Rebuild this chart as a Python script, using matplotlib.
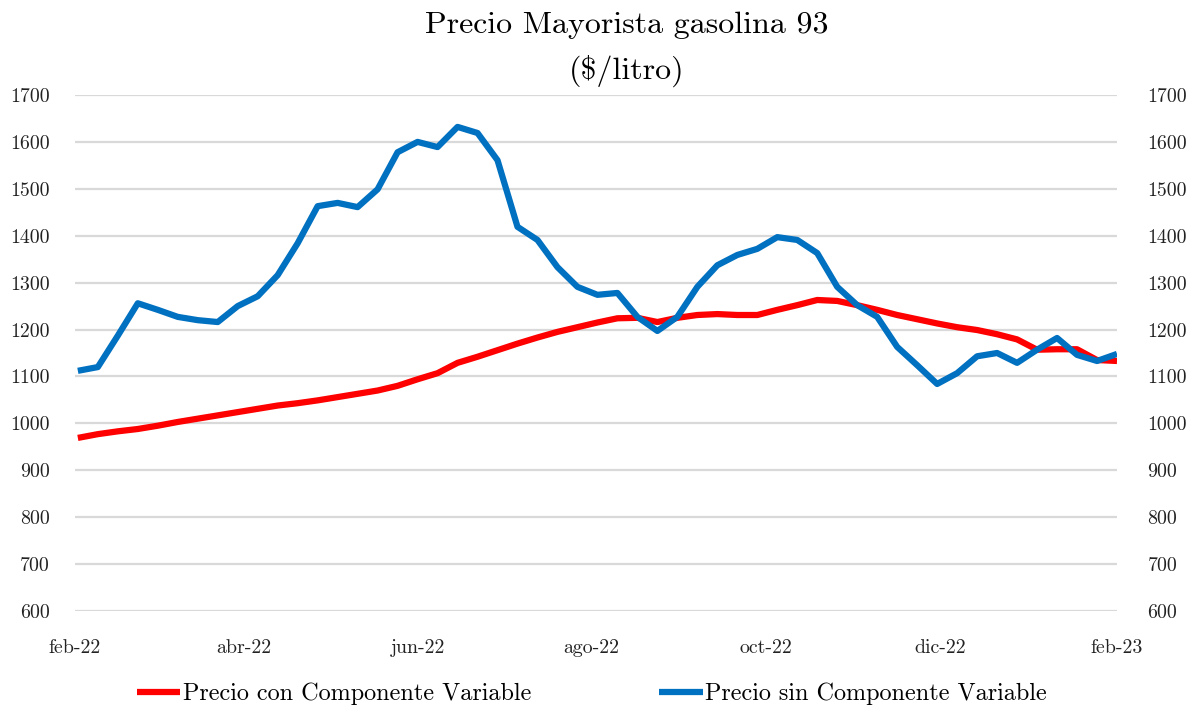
import pandas as pd
import matplotlib
matplotlib.use("Agg")
import matplotlib.pyplot as plt

# weekly data, feb-22 to feb-23
fechas = pd.date_range("2022-02-02", periods=53, freq="7D")

precio_con = [969, 977, 983, 988, 995, 1003, 1010, 1017, 1024, 1031,
              1038, 1043, 1049, 1056, 1063, 1070, 1080, 1094, 1107, 1129,
              1142, 1156, 1170, 1183, 1195, 1205, 1215, 1224, 1225, 1216,
              1225, 1231, 1233, 1231, 1231, 1242, 1252, 1263, 1261, 1252,
              1242, 1231, 1222, 1213, 1205, 1199, 1190, 1179, 1157, 1158,
              1158, 1135, 1133]

precio_sin = [1112, 1120, 1187, 1256, 1242, 1227, 1220, 1216, 1250, 1271,
              1316, 1384, 1463, 1470, 1461, 1499, 1578, 1600, 1589, 1632,
              1619, 1561, 1419, 1391, 1333, 1291, 1274, 1278, 1227, 1197,
              1227, 1291, 1337, 1359, 1372, 1397, 1391, 1363, 1291, 1252,
              1227, 1163, 1124, 1084, 1107, 1143, 1150, 1129, 1157, 1182,
              1146, 1133, 1148]

tick_fechas = pd.to_datetime(["2022-02-01", "2022-04-01", "2022-06-01", "2022-08-01",
                              "2022-10-01", "2022-12-01", "2023-02-01"])
tick_labels = ["feb-22", "abr-22", "jun-22", "ago-22", "oct-22", "dic-22", "feb-23"]
y_ticks = list(range(600, 1701, 100))

plt.rcParams['font.family'] = ['cmr10', 'DejaVu Serif']
plt.rcParams['axes.formatter.use_mathtext'] = True

fig = plt.figure(figsize=(11.92, 7.06), dpi=100)
ax = fig.add_axes([75/1192, 1 - 611/706, (1117 - 75)/1192, (611 - 95)/706])

ax.plot(fechas, precio_con, color='#FF0000', lw=4.5, solid_capstyle='butt',
        label='Precio con Componente Variable', zorder=3)
ax.plot(fechas, precio_sin, color='#0070C0', lw=4.5, solid_capstyle='butt',
        label='Precio sin Componente Variable', zorder=4)

ax.set_xlim(pd.Timestamp("2022-02-01"), pd.Timestamp("2023-02-01"))
ax.set_ylim(600, 1700)
ax.set_xticks(tick_fechas)
ax.set_xticklabels(tick_labels)
ax.set_yticks(y_ticks)
ax.set_yticklabels([str(v) for v in y_ticks])
ax.grid(axis='y', color='#d9d9d9', lw=1.6)
ax.set_axisbelow(True)
for s in ax.spines.values():
    s.set_visible(False)
ax.tick_params(axis='both', length=0, labelsize=14.3, colors='#222222')
ax.tick_params(axis='x', pad=20)
ax.tick_params(axis='y', pad=18)

ax2 = ax.twinx()
ax2.set_ylim(600, 1700)
ax2.set_yticks(y_ticks)
ax2.set_yticklabels([str(v) for v in y_ticks])
for s in ax2.spines.values():
    s.set_visible(False)
ax2.tick_params(axis='y', length=0, labelsize=14.3, colors='#222222', pad=22)

fig.text(627/1192, 1 - 25/706, 'Precio Mayorista gasolina 93', ha='center', va='center',
         fontsize=23)
fig.text(627/1192, 1 - 71/706, r'(\$/litro)', ha='center', va='center', fontsize=23)

fig.legend(loc='center', bbox_to_anchor=(592/1192, 1 - 694/706), ncol=2, frameon=False,
           fontsize=17.4, handlelength=1.8, handletextpad=0.1, columnspacing=5.3)

fig.savefig("out.png", dpi=100)
